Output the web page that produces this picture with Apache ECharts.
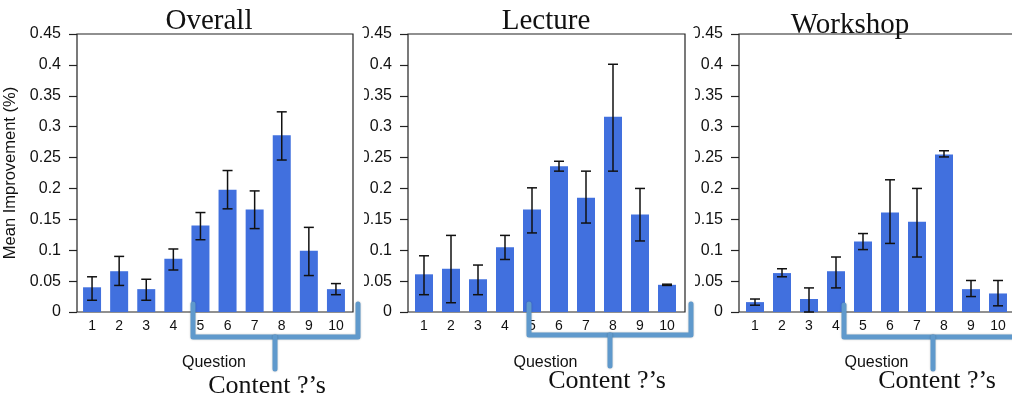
<!DOCTYPE html>
<html>
<head>
<meta charset="utf-8">
<script src="https://cdn.jsdelivr.net/npm/echarts@6/dist/echarts.min.js"></script>
<style>
  html, body { margin: 0; padding: 0; background: #fff; }
  #main { width: 1012px; height: 400px; }
</style>
</head>
<body>
<div id="main"></div>
<script>
// 数据
var questions = ['1', '2', '3', '4', '5', '6', '7', '8', '9', '10']
var panelTitles = ['Overall', 'Lecture', 'Workshop']

var overallMean = [0.040, 0.066, 0.037, 0.086, 0.140, 0.198, 0.166, 0.286, 0.099, 0.037]
var overallLow = [0.019, 0.043, 0.019, 0.068, 0.117, 0.167, 0.135, 0.246, 0.059, 0.028]
var overallHigh = [0.057, 0.090, 0.053, 0.102, 0.161, 0.229, 0.196, 0.324, 0.137, 0.046]

var lectureMean = [0.061, 0.070, 0.053, 0.105, 0.166, 0.236, 0.185, 0.316, 0.158, 0.044]
var lectureLow = [0.028, 0.015, 0.028, 0.085, 0.128, 0.228, 0.144, 0.228, 0.115, 0.043]
var lectureHigh = [0.091, 0.124, 0.076, 0.124, 0.201, 0.244, 0.228, 0.401, 0.200, 0.045]

var workshopMean = [0.016, 0.063, 0.021, 0.066, 0.114, 0.161, 0.146, 0.255, 0.037, 0.030]
var workshopLow = [0.011, 0.057, 0.000, 0.039, 0.101, 0.111, 0.089, 0.251, 0.025, 0.010]
var workshopHigh = [0.021, 0.070, 0.039, 0.089, 0.127, 0.214, 0.200, 0.261, 0.051, 0.051]

var yMin = 0
var yMax = 0.45
var yStep = 0.05

var means = [overallMean, lectureMean, workshopMean]
var lows = [overallLow, lectureLow, workshopLow]
var highs = [overallHigh, lectureHigh, workshopHigh]

// 布局
var frameLeft = [77, 408, 739]
var frameWidth = [276, 277, 300]
var barLeft = [78.5, 410.5, 741.5]
var barWidthArea = [271, 270, 270]
var titleX = [209, 546, 850]
var titleY = [21, 21, 25]
var contentX = [267, 607, 937]
var contentY = [386, 381, 381]
var plotTop = 34
var plotHeight = 278

var sans = '"Liberation Sans", Arial, Helvetica, sans-serif'
var serif = '"Liberation Serif", "Times New Roman", serif'
var barColor = '#4170de'
var lineColor = '#222'
var braceColor = '#5f99cc'

function renderErr (params, api) {
  var x = api.value(0)
  var hi = api.coord([x, api.value(2)])
  var lo = api.coord([x, api.value(1)])
  var w = 5
  var st = { stroke: '#111', lineWidth: 1.5 }
  return {
    type: 'group',
    children: [
      { type: 'line', shape: { x1: hi[0], y1: hi[1], x2: lo[0], y2: lo[1] }, style: st },
      { type: 'line', shape: { x1: hi[0] - w, y1: hi[1], x2: hi[0] + w, y2: hi[1] }, style: st },
      { type: 'line', shape: { x1: lo[0] - w, y1: lo[1], x2: lo[0] + w, y2: lo[1] }, style: st }
    ]
  }
}

var grids = []
var xAxes = []
var yAxes = []
var series = []
var graphics = []

for (var p = 0; p < 3; p++) {
  // 边框网格
  grids.push({
    left: frameLeft[p], top: plotTop, width: frameWidth[p], height: plotHeight,
    outerBoundsMode: 'none',
    show: true, borderColor: lineColor, borderWidth: 1.2, backgroundColor: 'transparent'
  })
  // 柱状网格
  grids.push({ left: barLeft[p], top: plotTop, width: barWidthArea[p], height: plotHeight, outerBoundsMode: 'none' })

  xAxes.push({ type: 'value', gridIndex: p * 2, show: false, min: 0, max: 1 })
  xAxes.push({
    type: 'category',
    gridIndex: p * 2 + 1,
    data: questions,
    axisLine: { show: false },
    axisTick: { show: false },
    axisLabel: { color: '#111', fontSize: 14, fontFamily: sans, margin: 7 },
    name: 'Question',
    nameLocation: 'middle',
    nameGap: 43,
    nameTextStyle: { color: '#111', fontSize: 16, fontFamily: sans }
  })

  yAxes.push({
    type: 'value',
    gridIndex: p * 2,
    min: yMin, max: yMax, interval: yStep,
    axisLine: { show: false },
    axisTick: { show: true, inside: false, length: 8, lineStyle: { color: lineColor, width: 1.2 } },
    axisLabel: { color: '#111', fontSize: 16, fontFamily: sans, margin: 16 },
    splitLine: { show: false },
    name: p === 0 ? 'Mean Improvement (%)' : '',
    nameLocation: 'middle',
    nameRotate: 90,
    nameGap: 58,
    nameTextStyle: { color: '#111', fontSize: 16.5, fontFamily: sans }
  })
  yAxes.push({ type: 'value', gridIndex: p * 2 + 1, min: yMin, max: yMax, interval: yStep, show: false })

  series.push({
    type: 'bar',
    xAxisIndex: p * 2 + 1,
    yAxisIndex: p * 2 + 1,
    data: means[p],
    barWidth: 18,
    itemStyle: { color: barColor },
    silent: true
  })
  var errData = []
  for (var i = 0; i < questions.length; i++) {
    errData.push([i, lows[p][i], highs[p][i]])
  }
  series.push({
    type: 'custom',
    xAxisIndex: p * 2 + 1,
    yAxisIndex: p * 2 + 1,
    renderItem: renderErr,
    encode: { x: 0, y: [1, 2] },
    data: errData,
    z: 5,
    silent: true
  })

  graphics.push({
    type: 'text', z: 50,
    style: {
      text: panelTitles[p], x: titleX[p], y: titleY[p], textAlign: 'center', textVerticalAlign: 'middle',
      font: '29px ' + serif, fill: '#111'
    }
  })
  graphics.push({
    type: 'text', z: 50,
    style: {
      text: 'Content ?’s', x: contentX[p], y: contentY[p], textAlign: 'center', textVerticalAlign: 'middle',
      font: '26px ' + serif, fill: '#111'
    }
  })
}

// 花括号
var braces = [
  [[[193, 304], [193, 337], [358, 337], [358, 304]], [[275, 337], [275, 369]]],
  [[[529, 304], [529, 335], [691, 335], [691, 304]], [[610, 335], [610, 366]]],
  [[[844, 305], [844, 337], [1030, 337]], [[933, 337], [933, 369]]]
]
braces.forEach(function (b) {
  b.forEach(function (pts) {
    graphics.push({
      type: 'polyline', z: 100,
      shape: { points: pts },
      style: {
        fill: null, stroke: braceColor, lineWidth: 5, lineJoin: 'round', lineCap: 'round',
        shadowBlur: 2, shadowColor: 'rgba(0,0,0,0.25)'
      }
    })
  })
})

// 遮住被裁掉的刻度标签
graphics.push({ type: 'rect', z: 90, shape: { x: 355, y: 28, width: 9, height: 290 }, style: { fill: '#fff' } })
graphics.push({ type: 'rect', z: 90, shape: { x: 687, y: 28, width: 8, height: 290 }, style: { fill: '#fff' } })

var myChart = echarts.init(document.getElementById('main'))
myChart.setOption({
  animation: false,
  backgroundColor: '#fff',
  grid: grids,
  xAxis: xAxes,
  yAxis: yAxes,
  series: series,
  graphic: graphics
})
</script>
</body>
</html>
